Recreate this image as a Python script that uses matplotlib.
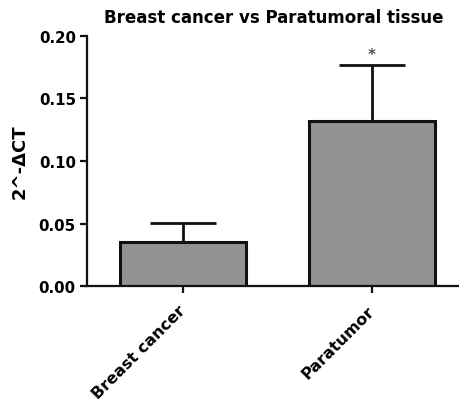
import matplotlib
matplotlib.use("Agg")
import matplotlib.pyplot as plt
import matplotlib.transforms as mtransforms

categories = ["Breast cancer", "Paratumor"]
means = [0.0354, 0.132]
sem = [0.0152, 0.0448]
yticks = [0.00, 0.05, 0.10, 0.15, 0.20]

plt.rcParams["font.family"] = ["DejaVu Sans"]
plt.rcParams["font.weight"] = "bold"

fig = plt.figure(figsize=(4.6, 4.02), dpi=100)
ax = fig.add_axes([0.189, 0.286, 0.811, 0.622])

x = list(range(len(categories)))
ax.bar(x, means, width=0.667, color="#929292", edgecolor="#111111", linewidth=2.2, zorder=2)
ax.errorbar(x, means, yerr=[[0] * len(sem), sem], fmt="none", ecolor="#111111",
            elinewidth=2.0, capsize=23.5, capthick=2.0, zorder=1)
ax.text(1, means[1] + sem[1] + 0.002, "*", ha="center", va="bottom", fontsize=11, color="#555555")

ax.set_xlim(-0.508, 1.466)
ax.set_ylim(0, 0.20)
ax.set_yticks(yticks)
ax.set_yticklabels([f"{v:.2f}" for v in yticks], fontsize=10.8, fontweight="bold")
ax.set_xticks(x)
ax.set_xticklabels(categories, rotation=45, ha="right", va="top", rotation_mode="anchor",
                   fontsize=11.5, fontweight="bold")
ax.set_ylabel("2^-ΔCT", fontsize=13, fontweight="bold", labelpad=7)
ax.set_title("Breast cancer vs Paratumoral tissue", fontsize=12, fontweight="bold", pad=10)

for side in ["top", "right"]:
    ax.spines[side].set_visible(False)
for side in ["left", "bottom"]:
    ax.spines[side].set_linewidth(1.6)
    ax.spines[side].set_color("#111111")
ax.tick_params(axis="both", direction="out", length=5, width=1.6, color="#111111", pad=3)
ax.tick_params(axis="x", pad=7)

# nudge rotated labels left so their ends sit under the ticks
shift = mtransforms.ScaledTranslation(-5 / 100, 0, fig.dpi_scale_trans)
for lbl in ax.get_xticklabels():
    lbl.set_transform(lbl.get_transform() + shift)

fig.savefig("out.png", dpi=100)
